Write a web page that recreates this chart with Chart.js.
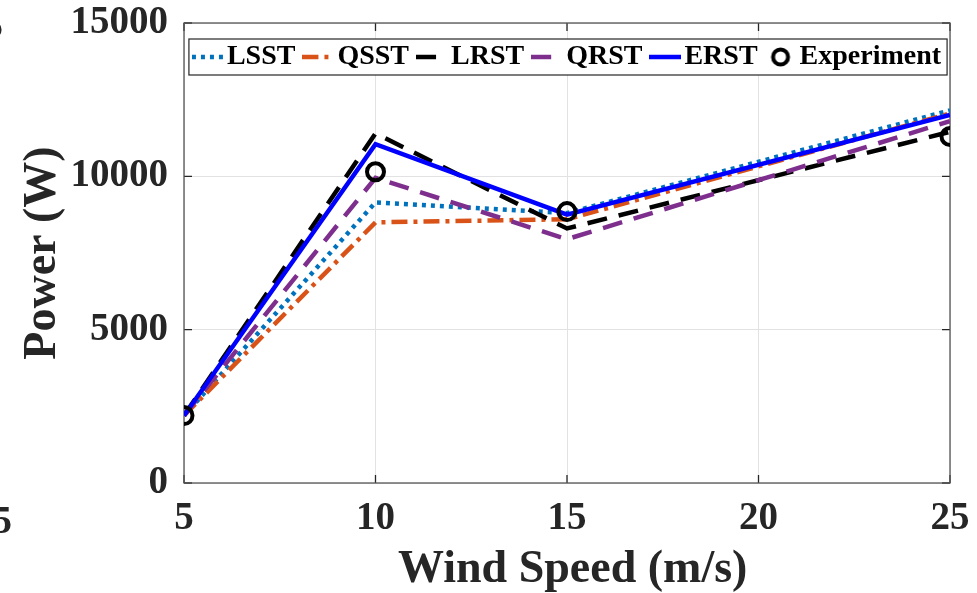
<!DOCTYPE html>
<html lang="en">
<head>
  <meta charset="UTF-8">
  <title>Power vs Wind Speed</title>
  <script src="https://cdn.jsdelivr.net/npm/chart.js"></script>
  <style>
    html, body { margin: 0; padding: 0; background: #fff; }
    #wrap { width: 977px; height: 593px; position: relative; }
  </style>
</head>
<body>
  <div id="wrap"><canvas id="powerChart"></canvas></div>
  <script>
    // data
    const windSpeed = [5, 10, 15, 25];
    const lsst = [2200, 9150, 8800, 12150];
    const qsst = [2200, 8500, 8600, 12050];
    const lrst = [2200, 11400, 8300, 11450];
    const qrst = [2200, 9950, 7950, 11800];
    const erst = [2200, 11050, 8750, 12000];
    const experiment = [2200, 10150, 8850, 11300];
    const xTicks = [5, 10, 15, 20, 25];
    const yTicks = [0, 5000, 10000, 15000];

    const FONT = 'Liberation Serif, Times New Roman, serif';
    const AXIS = '#262626';

    const toPoints = vals => windSpeed.map((x, i) => ({ x: x, y: vals[i] }));

    // small canvases used as legend markers
    function lineMarker(color, dash, width) {
      const c = document.createElement('canvas');
      c.width = 32; c.height = 10;
      const g = c.getContext('2d');
      g.strokeStyle = color; g.lineWidth = width; g.setLineDash(dash);
      g.beginPath(); g.moveTo(0, 5); g.lineTo(32, 5); g.stroke();
      return c;
    }
    function circleMarker() {
      const c = document.createElement('canvas');
      c.width = 32; c.height = 22;
      const g = c.getContext('2d');
      g.strokeStyle = '#000'; g.lineWidth = 4;
      g.beginPath(); g.arc(16, 11, 7.5, 0, Math.PI * 2); g.stroke();
      return c;
    }

    function lineSet(label, vals, color, dash, order) {
      return {
        label: label, data: toPoints(vals), borderColor: color, backgroundColor: color,
        borderWidth: 4.5, borderDash: dash, borderCapStyle: 'butt',
        pointRadius: 0, tension: 0, fill: false, order: order
      };
    }

    const datasets = [
      lineSet('LSST', lsst, '#0072BD', [4, 5], 6),
      lineSet('QSST', qsst, '#D95319', [16, 6, 4, 6], 5),
      lineSet('LRST', lrst, '#000000', [20, 12], 4),
      lineSet('QRST', qrst, '#7E2F8E', [20, 12], 3),
      lineSet('ERST', erst, '#0000FF', [], 2),
      {
        label: 'Experiment', data: toPoints(experiment), showLine: false,
        pointRadius: 8.5, pointBorderWidth: 4, pointBorderColor: '#000',
        pointBackgroundColor: 'rgba(0,0,0,0)', order: 1
      }
    ];

    const markers = [
      lineMarker('#0072BD', [4, 5], 4.5),
      lineMarker('#D95319', [16, 6, 4, 6], 4.5),
      lineMarker('#000000', [20, 12], 4.5),
      lineMarker('#7E2F8E', [20, 12], 4.5),
      lineMarker('#0000FF', [], 4.5),
      circleMarker()
    ];

    // white boxed legend + matlab style frame with inward ticks
    const framePlugin = {
      id: 'framePlugin',
      beforeLayout(chart) {
        // legend sits inside the plot but lays out in one row
        if (chart.legend) chart.legend.isHorizontal = () => true;
      },
      afterLayout(chart) {
        const lg = chart.legend, a = chart.chartArea;
        lg.maxWidth = 2000;
        lg.fit();
        lg.left = a.left - 15;
        lg.right = a.right + 25;
        lg.top = a.top + 2;
        lg.bottom = a.bottom;
      },
      beforeDatasetsDraw(chart) {
        const ctx = chart.ctx;
        const a = chart.chartArea;
        const xs = chart.scales.x, ys = chart.scales.y;
        ctx.save();
        ctx.strokeStyle = AXIS;
        ctx.lineWidth = 1.3;
        ctx.beginPath();
        xTicks.forEach(v => {
          const px = xs.getPixelForValue(v);
          ctx.moveTo(px, a.bottom); ctx.lineTo(px, a.bottom - 8);
          ctx.moveTo(px, a.top); ctx.lineTo(px, a.top + 8);
        });
        yTicks.forEach(v => {
          const py = ys.getPixelForValue(v);
          ctx.moveTo(a.left, py); ctx.lineTo(a.left + 8, py);
          ctx.moveTo(a.right, py); ctx.lineTo(a.right - 8, py);
        });
        ctx.stroke();
        ctx.strokeStyle = '#555';
        ctx.strokeRect(a.left, a.top, a.right - a.left, a.bottom - a.top);

        // legend frame, then the legend again on top of it
        const lg = chart.legend;
        const hb = lg.legendHitBoxes;
        if (hb && hb.length) {
          const first = hb[0], last = hb[hb.length - 1];
          const left = first.left - 14;
          const right = last.left + last.width + 6;
          const mid = first.top + 14;
          ctx.fillStyle = '#fff';
          ctx.fillRect(left, mid - 18, right - left, 36);
          ctx.strokeStyle = AXIS;
          ctx.lineWidth = 1.2;
          ctx.strokeRect(left, mid - 18, right - left, 36);
          ctx.restore();
          lg.draw();
        } else {
          ctx.restore();
        }
      },
      afterDraw(chart) {
        // fragments of the neighbouring panel's labels at the left edge
        const ctx = chart.ctx;
        ctx.save();
        ctx.fillStyle = AXIS;
        ctx.font = 'bold 39px ' + FONT;
        ctx.textAlign = 'right';
        ctx.textBaseline = 'alphabetic';
        ctx.fillText('5', 12, 533);
        ctx.fillText('5', 3, 38);
        ctx.restore();
      }
    };

    new Chart(document.getElementById('powerChart'), {
      type: 'line',
      data: { datasets: datasets },
      options: {
        responsive: true,
        maintainAspectRatio: false,
        animation: false,
        layout: { padding: { top: 23, right: 27, bottom: 0, left: 0 } },
        plugins: {
          tooltip: { enabled: false },
          legend: {
            position: 'chartArea',
            align: 'center',
            labels: {
              usePointStyle: true,
              pointStyleWidth: 10,
              padding: 18,
              color: '#000',
              font: { family: FONT, size: 28, weight: 'bold' },
              generateLabels: chart => chart.data.datasets.map((ds, i) => ({
                text: ds.label,
                pointStyle: markers[i],
                fontColor: '#000',
                fillStyle: 'rgba(0,0,0,0)',
                strokeStyle: 'rgba(0,0,0,0)',
                lineWidth: 0,
                hidden: false,
                datasetIndex: i
              }))
            }
          }
        },
        scales: {
          x: {
            type: 'linear',
            min: 5,
            max: 25,
            afterBuildTicks: s => { s.ticks = xTicks.map(v => ({ value: v })); },
            afterFit: s => { s.height = 110; s.paddingLeft = 0; s.paddingRight = 0; },
            grid: { color: '#e2e2e2', drawTicks: false },
            border: { display: false },
            ticks: {
              color: AXIS, padding: 13, maxRotation: 0,
              font: { family: FONT, size: 39, weight: 'bold' }
            },
            title: {
              display: true, text: ' Wind Speed (m/s)', color: AXIS,
              font: { family: FONT, size: 46, weight: 'bold', lineHeight: 1 },
              padding: { top: 0, bottom: 0 }
            }
          },
          y: {
            min: 0,
            max: 15000,
            afterBuildTicks: s => { s.ticks = yTicks.map(v => ({ value: v })); },
            afterFit: s => { s.width = 184; s.paddingTop = 0; s.paddingBottom = 0; },
            grid: { color: '#e2e2e2', drawTicks: false },
            border: { display: false },
            ticks: {
              color: AXIS, padding: 16,
              font: { family: FONT, size: 39, weight: 'bold' },
              callback: v => String(v)
            },
            title: {
              display: true, text: 'Power (W)', color: AXIS,
              font: { family: FONT, size: 46, weight: 'bold', lineHeight: 1 },
              padding: { top: 20, bottom: 0 }
            }
          }
        }
      },
      plugins: [framePlugin]
    });
  </script>
</body>
</html>
